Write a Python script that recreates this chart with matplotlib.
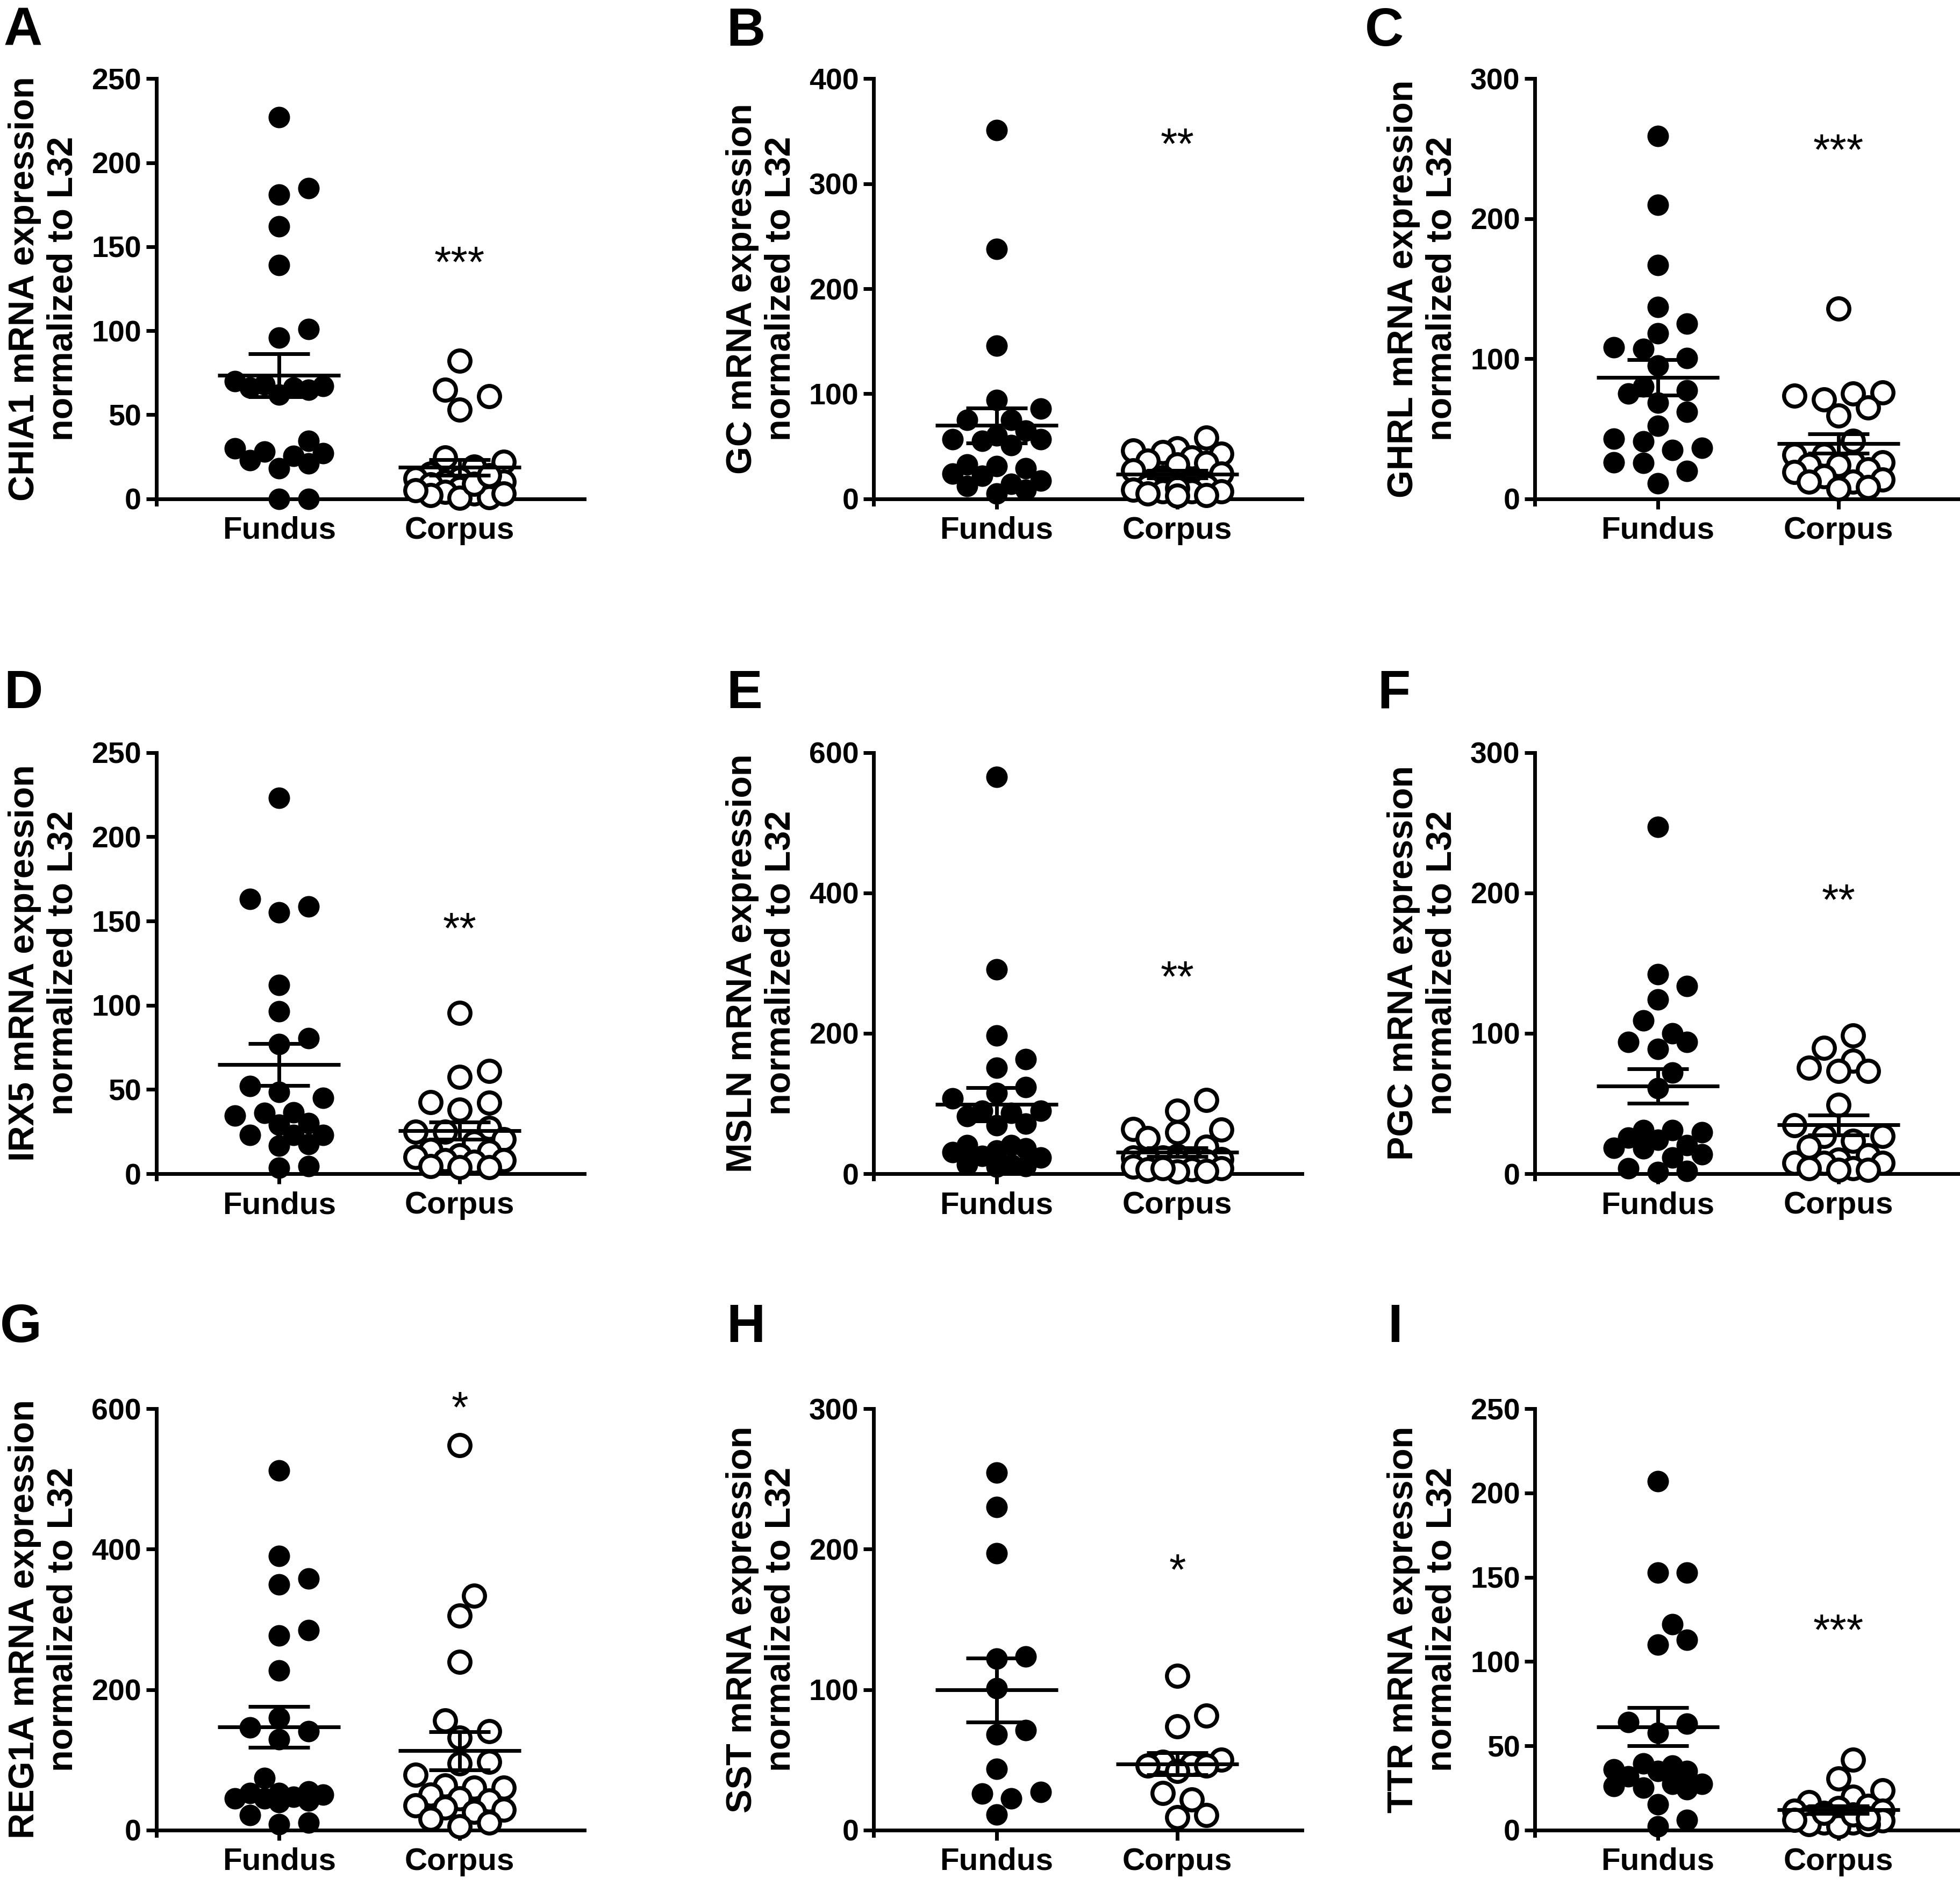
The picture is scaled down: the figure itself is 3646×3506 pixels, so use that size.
import numpy as np
import matplotlib.pyplot as plt

plt.rcParams['font.family'] = ['Liberation Sans', 'DejaVu Sans']

groups = ['Fundus', 'Corpus']
letters = ['A', 'B', 'C', 'D', 'E', 'F', 'G', 'H', 'I']
genes = ['CHIA1', 'GC', 'GHRL', 'IRX5', 'MSLN', 'PGC', 'REG1A', 'SST', 'TTR']
ymax = [250, 400, 300, 250, 600, 300, 600, 300, 250]
ystep = [50, 100, 100, 50, 200, 100, 200, 100, 50]
stars = ['***', '**', '***', '**', '**', '**', '*', '*', '***']
star_y = [139, 335, 247, 144, 276, 193, 598, 183, 117]

chia1_fundus = [227, 185, 181, 162, 139, 101, 96, 70, 67, 66, 62, 65, 66, 68,
                30, 25.5, 18, 23, 21, 27, 28, 34.5, 0, 0]
chia1_corpus = [82, 65, 61, 53, 24.5, 22, 19, 15, 12, 12, 10, 10, 8.5, 7.5,
                6.4, 4, 3, 2, 1, 0.5, 5, 9, 14, 3]
gc_fundus = [351, 238, 145.5, 94, 86, 75, 75, 65, 55, 56.5, 60, 56.5, 51, 31,
             29, 32.5, 24, 22, 17, 14, 12, 8.5, 5]
gc_corpus = [58, 48, 46, 44.5, 43, 39, 36, 34, 32.5, 27, 24, 20.5, 15.5, 12,
             12, 8.5, 7, 7, 7, 5, 3.5, 10, 3]
ghrl_fundus = [259, 210, 167, 137, 125, 118, 108, 107, 100.5, 95, 80, 77.5, 75,
               68.5, 62, 52, 43, 41, 36.5, 35, 26, 25.5, 20, 11]
ghrl_corpus = [136, 76, 75, 71, 73.5, 65, 59.5, 41.5, 31.5, 31.5, 26, 26, 24,
               24, 21, 19, 16, 13.5, 12, 12, 8.5, 7]
irx5_fundus = [223, 163, 158.5, 155, 112, 96.5, 77, 80.5, 52, 48.5, 45, 36.5,
               36, 34.5, 30, 29, 23, 23, 23, 17.5, 16.5, 3.5, 4.5]
irx5_corpus = [95.5, 61, 57.5, 42, 42.5, 38, 25, 27, 25, 20.5, 18.5, 14, 13,
               11, 10, 8, 8, 7, 4.5, 4, 4]
msln_fundus = [565, 291, 197, 163, 151, 123, 115, 107.5, 89.5, 89.5, 87, 82,
               71.5, 69, 41, 41, 36, 33, 31, 23, 25.5, 13, 13, 11, 10]
msln_corpus = [105, 89.5, 64, 62.5, 59, 51, 38.5, 25.5, 23, 20.5, 20.5, 23, 18,
               20.5, 18, 10, 6, 7.5, 6, 4, 3, 8]
pgc_fundus = [247, 142, 133.6, 124, 109, 100, 94, 94, 89, 72, 61, 31, 31, 29.4,
              25.6, 24.3, 18.4, 20.5, 18, 14, 11.5, 2, 4, 1.3]
pgc_corpus = [98.5, 89.6, 80.6, 75.5, 73, 73, 49, 34.5, 27, 27, 23.5, 19, 13,
              10, 7.7, 7.7, 7.7, 4, 4, 2.6, 2.6]
reg1a_fundus = [512, 390.5, 358, 350, 285, 277, 227, 159.5, 146, 140.5, 129,
                73.7, 55, 52.6, 50, 47, 52.6, 44.7, 44.7, 42, 39.5, 21, 10.5, 8]
reg1a_corpus = [548, 334, 305, 239.5, 156, 140.5, 131.6, 94.7, 97, 79, 63, 60.5,
                60.5, 44.7, 42, 50, 35, 31.6, 29, 26, 15.8, 10.5, 5]
sst_fundus = [254.5, 230, 197, 122, 123.7, 101, 68, 71, 43.4, 27, 26, 22.4, 11]
sst_corpus = [109.7, 81.6, 73.7, 50, 48.7, 47, 46, 46, 42, 26.3, 21.8, 9.2, 10.5]
ttr_fundus = [207, 152.8, 152.8, 122, 112.7, 110, 64, 63, 57.6, 39.4, 38.3, 36,
              35, 35, 31.7, 27.4, 27.4, 25, 26, 24, 15.3, 6, 2]
ttr_corpus = [41.6, 30.6, 23.6, 19.7, 16.4, 14.2, 13, 11.4, 11.4, 7.7, 6.6, 5.5,
              4.4, 4.4, 3.3, 3.3, 2.2, 9, 7, 10, 6]

fundus = [chia1_fundus, gc_fundus, ghrl_fundus, irx5_fundus, msln_fundus,
          pgc_fundus, reg1a_fundus, sst_fundus, ttr_fundus]
corpus = [chia1_corpus, gc_corpus, ghrl_corpus, irx5_corpus, msln_corpus,
          pgc_corpus, reg1a_corpus, sst_corpus, ttr_corpus]

W, H = 1568, 1508   # layout measured on the shrunk reference
col_left = [125, 699, 1228]
rows = [(399, 63), (939, 602), (1464, 1127)]
letter_x = [3, 581, 1092, 3, 581, 1102, 0, 581, 1110]
letter_top = [5, 5, 5, 535, 535, 535, 1042, 1042, 1042]
XL = (-0.68, 1.69)
ax_w = 342.5


def swarm(vals, top, diam=44.0, xscale=336.0, hpx=783.0, step=0.62, kmax=3):
    # compact beeswarm: limited width, overlap allowed when crowded
    vals = np.asarray(vals, float)
    ys = vals / top * hpx
    offs = np.zeros(len(vals))
    placed = []
    cands = [0]
    for k in range(1, kmax + 1):
        cands += [k, -k]
    for i in np.argsort(vals):
        best, bestd = 0.0, -1.0
        for k in cands:
            x = k * step * diam
            if placed:
                dmin = min(np.hypot(x - px, ys[i] - py) for px, py in placed)
            else:
                dmin = np.inf
            if dmin >= 0.9 * diam:
                best = x
                break
            if dmin > bestd:
                best, bestd = x, dmin
        placed.append((best, ys[i]))
        offs[i] = best / xscale
    return offs


fig = plt.figure(figsize=(36.46, 35.06), dpi=100)

for p in range(9):
    r, c = divmod(p, 3)
    bot, top = rows[r]
    ax = fig.add_axes([col_left[c] / W, 1 - bot / H, ax_w / W, (bot - top) / H])

    for g, data in enumerate([fundus[p], corpus[p]]):
        vals = np.asarray(data, float)
        xs = g + swarm(vals, ymax[p])
        if g == 0:
            ax.scatter(xs, vals, s=830, facecolor='black', linewidth=0,
                       clip_on=False, zorder=3)
        else:
            ax.scatter(xs, vals, s=810, facecolor='white', edgecolor='black',
                       linewidth=5.3, clip_on=False, zorder=3)
        m = vals.mean()
        se = vals.std(ddof=1) / np.sqrt(len(vals))
        ax.hlines(m, g - 0.34, g + 0.34, color='black', lw=5, zorder=4)
        ax.hlines([m - se, m + se], g - 0.17, g + 0.17, color='black', lw=5, zorder=4)
        ax.vlines(g, m - se, m + se, color='black', lw=5, zorder=4)

    ax.text(1, star_y[p], stars[p], ha='center', va='center', fontsize=58,
            clip_on=False)

    ax.set_xlim(*XL)
    ax.set_ylim(0, ymax[p])
    ax.set_yticks(np.arange(0, ymax[p] + 1, ystep[p]))
    ax.set_xticks([0, 1])
    ax.set_xticklabels(groups)
    for s in ['top', 'right']:
        ax.spines[s].set_visible(False)
    for s in ['left', 'bottom']:
        ax.spines[s].set_linewidth(5)
    ax.spines['left'].set_bounds(-0.013 * ymax[p], ymax[p])
    ax.tick_params(axis='y', length=14, width=5, pad=6, labelsize=40)
    ax.tick_params(axis='x', length=14, width=5, pad=9, labelsize=42)
    for lab in ax.get_xticklabels() + ax.get_yticklabels():
        lab.set_fontweight('bold')
    ax.set_ylabel(genes[p] + ' mRNA expression\nnormalized to L32',
                  fontsize=48, fontweight='bold')
    ax.yaxis.set_label_coords(-0.178, 0.5)

    fig.text(letter_x[p] / W, 1 - letter_top[p] / H, letters[p], fontsize=72,
             fontweight='bold', ha='left', va='top')

fig.savefig('out.png', dpi=100)
